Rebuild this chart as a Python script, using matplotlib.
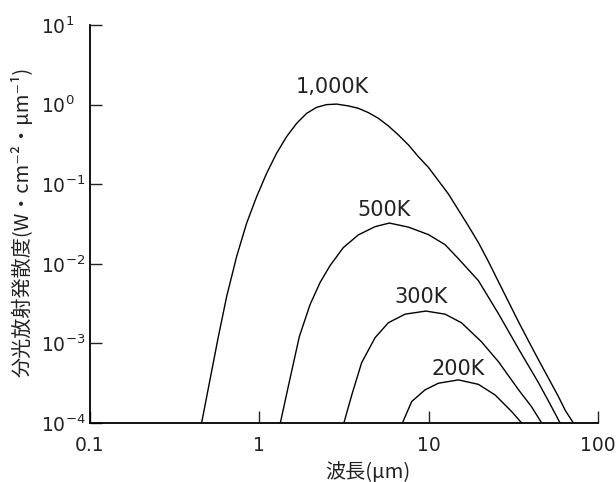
import matplotlib
matplotlib.use("Agg")
import matplotlib.pyplot as plt
from matplotlib.ticker import FixedLocator, FixedFormatter, NullLocator, LogFormatterSciNotation

plt.rcParams["font.family"] = ["DejaVu Sans"]
CJK = ["Noto Sans CJK JP", "DejaVu Sans"]

# Spectral radiant exitance (W·cm^-2·µm^-1) against wavelength (µm)
wl_1000 = [0.456, 0.511, 0.573, 0.641, 0.734, 0.841, 0.964, 1.104, 1.265, 1.449,
           1.661, 1.903, 2.180, 2.498, 2.861, 3.356, 3.845, 4.405, 5.045, 5.781,
           6.622, 7.59, 8.69, 9.96, 11.41, 13.07, 14.98, 17.16, 19.66, 22.52,
           25.8, 29.57, 33.87, 38.81, 44.46, 50.93, 58.35, 64.2, 71.56]
m_1000 = [1e-4, 3.48e-4, 1.22e-3, 3.87e-3, 0.0123, 0.0323, 0.0698, 0.137, 0.245, 0.396,
          0.582, 0.777, 0.925, 1.0, 1.015, 0.963, 0.899, 0.793, 0.673, 0.540,
          0.416, 0.312, 0.222, 0.163, 0.111, 0.0755, 0.0475, 0.0299, 0.0185, 0.0107,
          5.98e-3, 3.35e-3, 1.88e-3, 1.08e-3, 6.25e-4, 3.67e-4, 2.15e-4, 1.43e-4, 1e-4]

wl_500 = [1.330, 1.504, 1.723, 1.993, 2.283, 2.616, 3.134, 3.845, 4.825, 5.861,
          7.59, 9.96, 12.50, 14.98, 19.66, 25.8, 33.87, 44.46, 52.35, 59.7]
m_500 = [1e-4, 3.31e-4, 1.22e-3, 3.07e-3, 5.81e-3, 9.49e-3, 0.0160, 0.0231, 0.0293, 0.0325,
         0.0289, 0.0233, 0.0174, 0.0116, 6.15e-3, 2.37e-3, 8.61e-4, 3.22e-4, 1.70e-4, 1e-4]

wl_300 = [3.156, 3.519, 4.021, 4.825, 5.781, 7.255, 9.627, 12.50, 15.61, 20.48,
          25.8, 33.87, 40.43, 46.5]
m_300 = [1e-4, 2.27e-4, 5.74e-4, 1.18e-3, 1.82e-3, 2.33e-3, 2.55e-3, 2.33e-3, 1.82e-3, 1.05e-3,
         5.91e-4, 2.63e-4, 1.61e-4, 1e-4]

wl_200 = [6.995, 7.936, 9.522, 11.41, 14.98, 19.66, 24.68, 30.93, 35.42]
m_200 = [1e-4, 1.86e-4, 2.61e-4, 3.16e-4, 3.48e-4, 3.06e-4, 2.25e-4, 1.39e-4, 1e-4]

curve_labels = ["1,000K", "500K", "300K", "200K"]
label_wl = [2.70, 5.47, 9.06, 14.97]
label_m = [1.68, 0.048, 3.87e-3, 4.82e-4]

x_ticks = [0.1, 1, 10, 100]
x_tick_labels = ["0.1", "1", "10", "100"]
y_ticks = [1e-4, 1e-3, 1e-2, 1e-1, 1e0, 1e1]

fig = plt.figure(figsize=(6.16, 4.82), dpi=100)
ax = fig.add_axes([0.1461, 0.1224, 0.8247, 0.8257])
ax.set_xscale("log")
ax.set_yscale("log")
ax.set_xlim(0.1, 100)
ax.set_ylim(1e-4, 1e1)

for wl, m in [(wl_1000, m_1000), (wl_500, m_500), (wl_300, m_300), (wl_200, m_200)]:
    ax.plot(wl, m, color="black", lw=1.0, solid_joinstyle="round")

for txt, x, y in zip(curve_labels, label_wl, label_m):
    ax.text(x, y, txt, ha="center", va="center", fontsize=15, color="#222222")

for side in ("top", "right"):
    ax.spines[side].set_visible(False)
for side in ("left", "bottom"):
    ax.spines[side].set_linewidth(1.3)

ax.xaxis.set_major_locator(FixedLocator(x_ticks))
ax.xaxis.set_major_formatter(FixedFormatter(x_tick_labels))
ax.yaxis.set_major_locator(FixedLocator(y_ticks))
ax.yaxis.set_major_formatter(LogFormatterSciNotation())
ax.xaxis.set_minor_locator(NullLocator())
ax.yaxis.set_minor_locator(NullLocator())
ax.tick_params(axis="both", which="major", direction="in", length=8.5, width=1.0,
               labelsize=13.5, colors="#222222")
ax.tick_params(axis="x", pad=9)
ax.tick_params(axis="y", pad=35)
for lab in ax.get_yticklabels():
    lab.set_horizontalalignment("left")

ax.set_ylabel("分光放射発散度(W・cm⁻²・µm⁻¹)", family=CJK, fontsize=14.5, color="#222222")
ax.yaxis.set_label_coords(-0.112, 0.505)
ax.set_xlabel("波長(µm)", family=CJK, fontsize=14.5, color="#222222")
ax.xaxis.set_label_coords(0.547, -0.098)

fig.savefig("out.png", dpi=100)
